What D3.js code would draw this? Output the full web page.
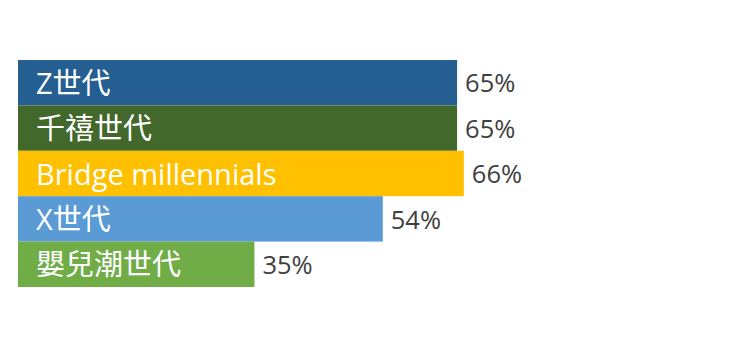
<!DOCTYPE html>
<html><head><meta charset="utf-8">
<script src="https://cdn.jsdelivr.net/npm/d3@7"></script>
<style>body{margin:0;background:#fff;}svg{display:block;}</style>
</head><body>
<svg id="chart" width="740" height="346"></svg>
<script>
const categories = ["Z世代", "千禧世代", "Bridge millennials", "X世代", "嬰兒潮世代"];
const values = [65, 65, 66, 54, 35];
const valueLabels = ["65%", "65%", "66%", "54%", "35%"];
const colors = ["#255E91", "#43682B", "#FFC000", "#5B9BD5", "#70AD47"];

const svg = d3.select("#chart");
const x = d3.scaleLinear().domain([0, 100]).range([18, 693.5]);
const y = d3.scaleBand().domain(categories).range([60, 287]).padding(0);
const font = "'Open Sans', 'Noto Sans CJK TC', sans-serif";

const g = svg.selectAll("g.bar").data(categories).enter().append("g").attr("class", "bar");
g.append("rect")
  .attr("x", x(0))
  .attr("y", d => y(d))
  .attr("width", (d, i) => x(values[i]) - x(0))
  .attr("height", y.bandwidth())
  .attr("fill", (d, i) => colors[i]);
g.append("text")
  .attr("x", x(0) + 18)
  .attr("y", d => y(d) + y.bandwidth() / 2)
  .attr("dy", "0.38em")
  .attr("fill", "#fff")
  .style("font-family", font)
  .style("font-size", "29px")
  .text(d => d);
g.append("text")
  .attr("x", (d, i) => x(values[i]) + 8)
  .attr("y", d => y(d) + y.bandwidth() / 2)
  .attr("dy", "0.38em")
  .attr("fill", "#404040")
  .style("font-family", font)
  .style("font-size", "25.5px")
  .text((d, i) => valueLabels[i]);
</script>
</body></html>
